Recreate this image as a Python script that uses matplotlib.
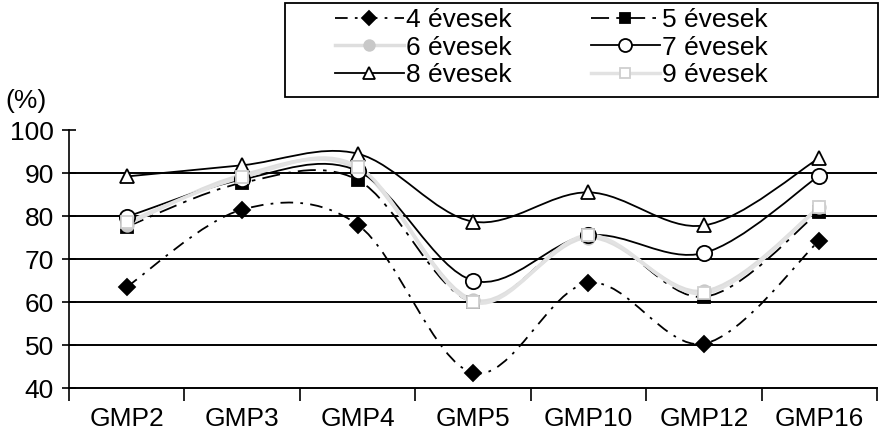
import numpy as np
import matplotlib
matplotlib.use('Agg')
import matplotlib.pyplot as plt
from matplotlib.path import Path
from matplotlib.patches import PathPatch, Rectangle
from matplotlib.lines import Line2D

plt.rcParams['font.family'] = ['Liberation Sans', 'DejaVu Sans']

categories = ['GMP2', 'GMP3', 'GMP4', 'GMP5', 'GMP10', 'GMP12', 'GMP16']

age4 = [63.5, 81.5, 78.0, 43.5, 64.5, 50.3, 74.3]
age5 = [77.5, 87.7, 88.4, 60.0, 75.5, 61.2, 81.0]
age6 = [78.0, 89.5, 91.0, 60.5, 75.0, 62.5, 82.0]
age7 = [79.8, 88.5, 90.5, 65.0, 75.5, 71.4, 89.4]
age8 = [89.2, 91.8, 94.5, 78.7, 85.5, 77.8, 93.5]
age9 = [78.5, 89.0, 91.5, 60.0, 75.5, 62.0, 82.0]

labels = ['4 évesek', '5 évesek', '6 évesek', '7 évesek', '8 évesek', '9 évesek']


def smooth_path(xs, ys):
  # Excel-like smoothed line: cubic bezier segments through each point
  pts = np.column_stack([xs, ys]).astype(float)
  n = len(pts)
  verts = [pts[0]]
  codes = [Path.MOVETO]
  for i in range(n - 1):
    p0 = pts[i - 1] if i > 0 else pts[i]
    p1 = pts[i]
    p2 = pts[i + 1]
    p3 = pts[i + 2] if i + 2 < n else pts[i + 1]
    c1 = p1 + (p2 - p0) / 6.0
    c2 = p2 - (p3 - p1) / 6.0
    verts += [c1, c2, p2]
    codes += [Path.CURVE4] * 3
  return Path(verts, codes)


# style per series: line color, width, dashes, marker, marker face / edge
styles = [
  dict(color='black', lw=1.3, ls=(0, (7, 4, 1.5, 4)), marker='D', mfc='black', mec='black', ms=8),
  dict(color='black', lw=1.3, ls=(0, (10, 4, 2, 4)), marker='s', mfc='black', mec='black', ms=8),
  dict(color='#dedede', lw=2.5, ls='-', marker='o', mfc='#c8c8c8', mec='#c8c8c8', ms=9),
  dict(color='black', lw=1.3, ls='-', marker='o', mfc='white', mec='black', ms=11),
  dict(color='black', lw=1.3, ls='-', marker='^', mfc='white', mec='black', ms=10),
  dict(color='#e2e2e2', lw=2.5, ls='-', marker='s', mfc='white', mec='#cfcfcf', ms=9),
]

fig = plt.figure(figsize=(8.8, 4.44), dpi=100)
fig.patch.set_facecolor('white')
ax = fig.add_axes([0.0784, 0.1261, 0.9182, 0.5811])

x = np.arange(len(categories))
series = [age4, age5, age6, age7, age8, age9]
handles = []
for vals, st, lab in zip(series, styles, labels):
  patch = PathPatch(smooth_path(x, vals), facecolor='none', edgecolor=st['color'],
                    lw=st['lw'], linestyle=st['ls'], zorder=3)
  ax.add_patch(patch)
  ax.plot(x, vals, linestyle='none', marker=st['marker'], mfc=st['mfc'],
          mec=st['mec'], ms=st['ms'], mew=1.3, zorder=4)
  handles.append(Line2D([], [], color=st['color'], lw=st['lw'], linestyle=st['ls'],
                        marker=st['marker'], mfc=st['mfc'], mec=st['mec'],
                        ms=st['ms'] * 0.85, mew=1.3, label=lab))

ax.set_xlim(-0.5, len(categories) - 0.5)
ax.set_ylim(40, 100)
ax.set_yticks(np.arange(40, 101, 10))
ax.set_xticks(x)
ax.set_xticklabels(categories)
ax.set_xticks(np.arange(-0.5, len(categories), 1), minor=True)
ax.tick_params(axis='x', which='major', length=0, labelsize=19, pad=14)
ax.tick_params(axis='x', which='minor', length=9, width=1.2, direction='out')
ax.tick_params(axis='y', length=10, width=1.2, direction='inout', labelsize=19, pad=6)

ax.grid(axis='y', color='black', lw=1.4)
ax.get_ygridlines()[-1].set_visible(False)
ax.get_ygridlines()[0].set_visible(False)
ax.set_axisbelow(True)

for side in ['top', 'right']:
  ax.spines[side].set_visible(False)
ax.spines['left'].set_linewidth(1.2)
ax.spines['bottom'].set_linewidth(1.4)

fig.text(0.006, 0.745, '(%)', fontsize=19, ha='left', va='bottom')

# legend is filled row by row in the reference; frame drawn separately
order = [0, 2, 4, 1, 3, 5]
leg = fig.legend(handles=[handles[i] for i in order], ncol=2, loc='upper left',
                 bbox_to_anchor=(335 / 880, 1 - 8 / 444),
                 fontsize=19, handlelength=2.6, handletextpad=0.1,
                 columnspacing=3.0, labelspacing=0.14, borderpad=0.0,
                 borderaxespad=0.0, frameon=False)
fig.add_artist(Rectangle((285 / 880, 1 - 97 / 444), 593 / 880, 94 / 444,
                         transform=fig.transFigure, fill=False,
                         edgecolor='black', lw=1.3))

fig.savefig('out.png', dpi=100, facecolor='white')
